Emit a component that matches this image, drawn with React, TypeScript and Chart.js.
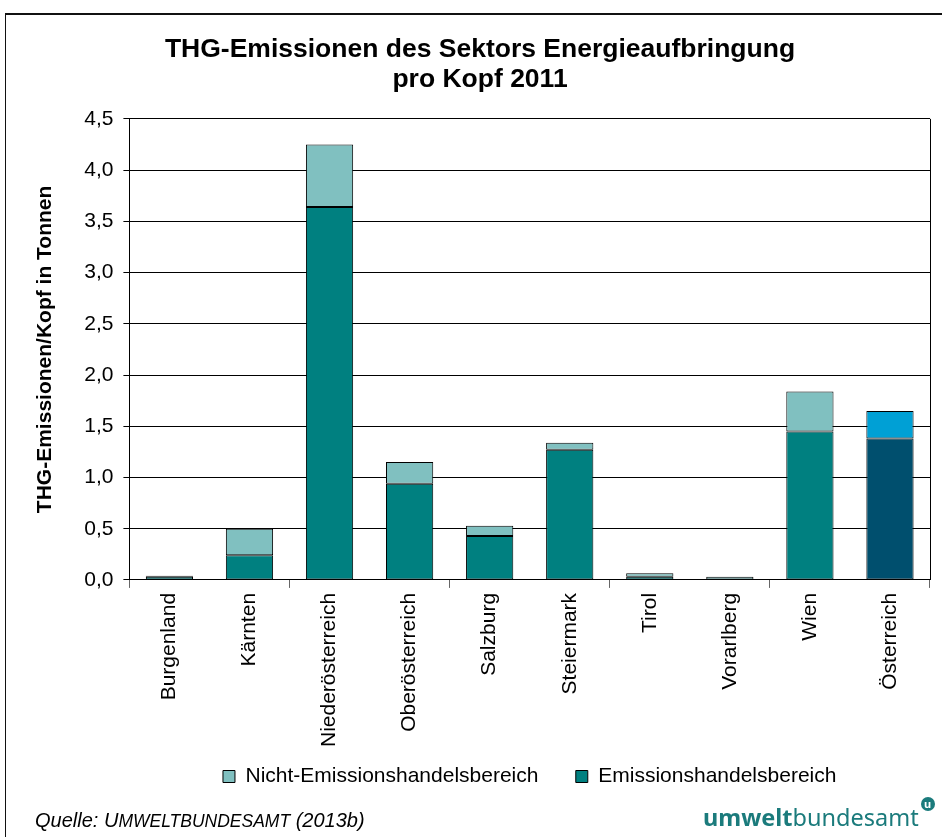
import React, { useEffect, useRef } from "react";
import { Chart, registerables } from "chart.js";

Chart.register(...registerables);

const categories = [
  "Burgenland",
  "Kärnten",
  "Niederösterreich",
  "Oberösterreich",
  "Salzburg",
  "Steiermark",
  "Tirol",
  "Vorarlberg",
  "Wien",
  "Österreich",
];
const emissionshandel = [0.03, 0.24, 3.64, 0.94, 0.43, 1.27, 0.03, 0.0, 1.45, 1.38];
const nichtEmissionshandel = [0.01, 0.26, 0.61, 0.21, 0.1, 0.07, 0.035, 0.03, 0.39, 0.27];
const yTicks = [0, 0.5, 1.0, 1.5, 2.0, 2.5, 3.0, 3.5, 4.0, 4.5];

const FONT = "'Liberation Sans', Arial, sans-serif";

const rightBorder = {
  id: "rightBorder",
  afterDraw(chart: any) {
    const { ctx, chartArea } = chart;
    ctx.save();
    ctx.strokeStyle = "#000";
    ctx.lineWidth = 1;
    ctx.beginPath();
    const x = Math.round(chartArea.right) + 0.5;
    ctx.moveTo(x, chartArea.top);
    ctx.lineTo(x, chartArea.bottom);
    ctx.stroke();
    ctx.restore();
  },
};

export default function App() {
  const ref = useRef<HTMLCanvasElement>(null);

  useEffect(() => {
    if (!ref.current) return;
    const ets = categories.map((c, i) => (i === categories.length - 1 ? "#004F6E" : "#008080"));
    const non = categories.map((c, i) => (i === categories.length - 1 ? "#00A0D5" : "#80C0C0"));
    const chart = new Chart(ref.current, {
      type: "bar",
      data: {
        labels: categories,
        datasets: [
          {
            label: "Emissionshandelsbereich",
            data: emissionshandel,
            backgroundColor: ets,
            borderColor: "#000",
            borderWidth: 1,
            borderSkipped: false,
            barPercentage: 0.59,
            categoryPercentage: 1,
          },
          {
            label: "Nicht-Emissionshandelsbereich",
            data: nichtEmissionshandel,
            backgroundColor: non,
            borderColor: "#000",
            borderWidth: 1,
            borderSkipped: false,
            barPercentage: 0.59,
            categoryPercentage: 1,
          },
        ],
      },
      options: {
        responsive: false,
        animation: false,
        layout: { padding: { top: 35, right: 12, left: 30, bottom: 40 } },
        plugins: {
          title: {
            display: true,
            text: ["THG-Emissionen des Sektors Energieaufbringung", "pro Kopf 2011"],
            color: "#000",
            font: { family: FONT, size: 26.5, weight: "bold", lineHeight: 1.13 },
            padding: { top: 0, bottom: 24 },
          },
          legend: {
            position: "bottom",
            fullSize: false,
            reverse: true,
            labels: {
              color: "#000",
              font: { family: FONT, size: 21 },
              boxWidth: 12,
              boxHeight: 12,
              padding: 14,
              generateLabels: (ch: any) =>
                ch.data.datasets.map((ds: any, i: number) => ({
                  text: i === 1 ? ds.label + "    " : ds.label,
                  fillStyle: i === 0 ? "#008080" : "#80C0C0",
                  strokeStyle: "#000",
                  lineWidth: 1,
                  datasetIndex: i,
                  hidden: false,
                })),
            },
          },
          tooltip: { enabled: false },
        },
        scales: {
          x: {
            stacked: true,
            grid: {
              drawOnChartArea: false,
              drawTicks: true,
              tickLength: 8,
              offset: true,
              color: (ctx: any) =>
                ctx.index === undefined || ctx.index % 2 === 0 ? "#666" : "rgba(0,0,0,0)",
            },
            border: { color: "#000", width: 1 },
            ticks: {
              color: "#000",
              font: { family: FONT, size: 21 },
              minRotation: 90,
              maxRotation: 90,
              padding: 5,
              autoSkip: false,
            },
          },
          y: {
            stacked: true,
            min: 0,
            max: 4.5,
            afterBuildTicks: (axis: any) => {
              axis.ticks = yTicks.map((v) => ({ value: v }));
            },
            grid: { color: "#000", lineWidth: 1, tickLength: 6 },
            border: { color: "#000", width: 1 },
            ticks: {
              color: "#000",
              font: { family: FONT, size: 21 },
              padding: 10,
              callback: (v: any) => Number(v).toFixed(1).replace(".", ","),
            },
            title: {
              display: true,
              text: "THG-Emissionen/Kopf in Tonnen",
              color: "#000",
              font: { family: FONT, size: 21, weight: "bold" },
              padding: { top: 3, bottom: 16 },
            },
          },
        },
      },
      plugins: [rightBorder],
    });
    return () => chart.destroy();
  }, []);

  return (
    <div style={{ position: "absolute", left: 0, top: 0, width: 942, height: 837, background: "#fff", overflow: "hidden" }}>
      <div
        style={{
          position: "absolute",
          left: 5,
          top: 13,
          width: 1000,
          height: 900,
          borderTop: "2px solid #111",
          borderLeft: "1px solid #111",
        }}
      />
      <canvas ref={ref} width={942} height={837} style={{ position: "absolute", left: 0, top: 0 }} />
      <div
        style={{
          position: "absolute",
          left: 35,
          top: 809,
          fontFamily: FONT,
          fontSize: 20,
          fontStyle: "italic",
          color: "#000",
          whiteSpace: "nowrap",
        }}
      >
        Quelle: U<span style={{ fontSize: 17.5 }}>MWELTBUNDESAMT</span> (2013b)
      </div>
      <div
        style={{
          position: "absolute",
          left: 703,
          top: 803,
          fontFamily: "'Noto Sans', 'Open Sans', sans-serif",
          fontSize: 23.5,
          color: "#1B7B7C",
          whiteSpace: "nowrap",
          lineHeight: "28px",
        }}
      >
        <span style={{ fontWeight: "bold" }}>umwelt</span>
        <span>bundesamt</span>
        <span
          style={{
            display: "inline-block",
            width: 14,
            height: 14,
            borderRadius: 7,
            background: "#1B7B7C",
            color: "#fff",
            fontSize: 11,
            lineHeight: "13px",
            textAlign: "center",
            fontWeight: "bold",
            verticalAlign: "top",
            marginLeft: 2,
            marginTop: -6,
          }}
        >
          u
        </span>
      </div>
    </div>
  );
}
